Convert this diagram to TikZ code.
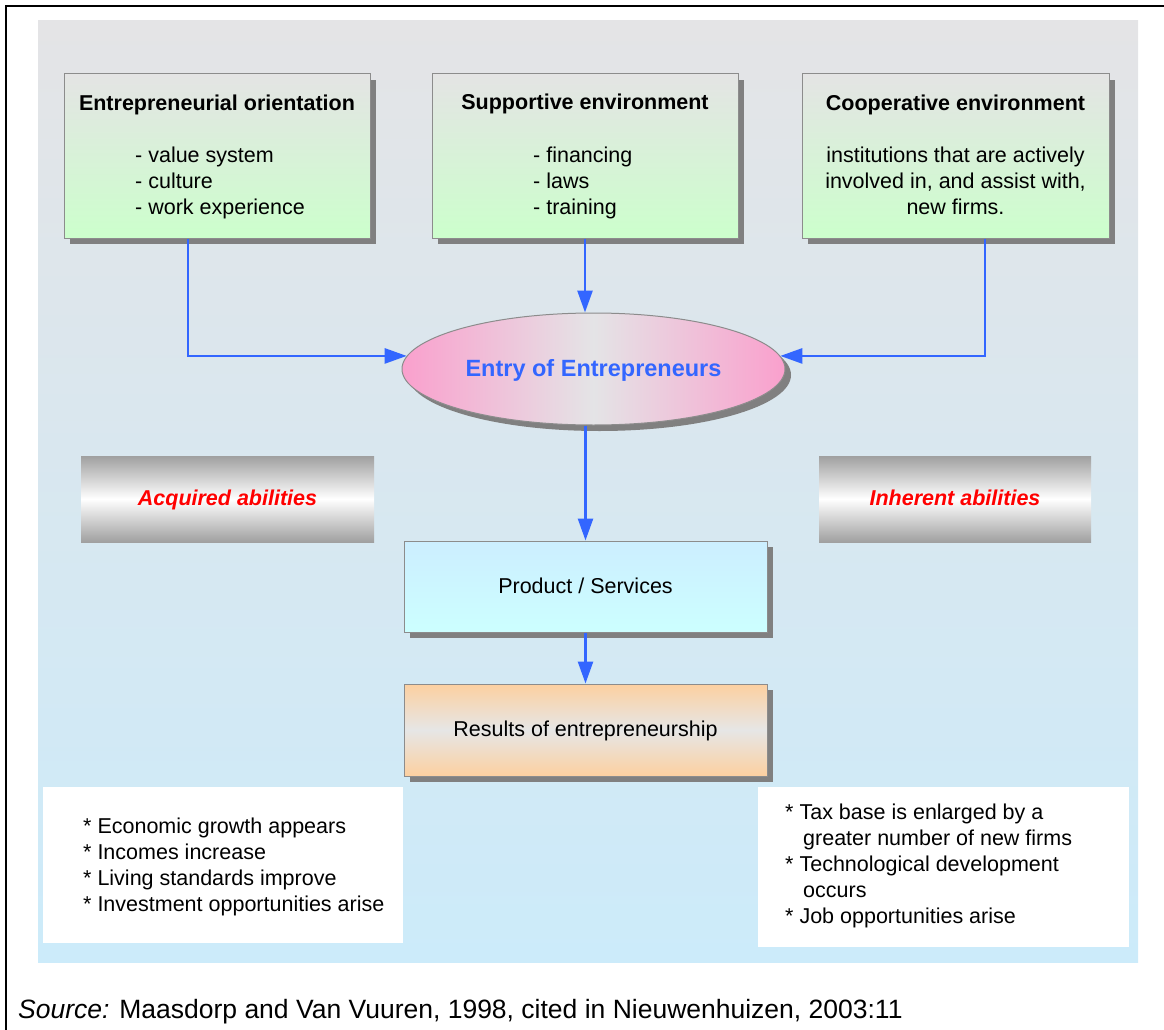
\documentclass[tikz,border=0pt]{standalone}
\usepackage{fontspec}
\setmainfont{Liberation Sans}
\usetikzlibrary{shadows,arrows.meta,shapes.geometric}

\definecolor{panelTop}{RGB}{228,228,230}
\definecolor{panelBot}{RGB}{204,235,250}
\definecolor{greenTop}{RGB}{228,228,228}
\definecolor{greenBot}{RGB}{204,255,204}
\definecolor{pinkEdge}{RGB}{250,160,205}
\definecolor{pinkMid}{RGB}{228,228,230}
\definecolor{metal}{RGB}{160,160,160}
\definecolor{cyanTop}{RGB}{204,238,255}
\definecolor{cyanBot}{RGB}{204,255,255}
\definecolor{peach}{RGB}{252,208,160}
\definecolor{peachMid}{RGB}{230,230,230}
\definecolor{flowBlue}{RGB}{51,102,255}
\definecolor{edgeGray}{RGB}{140,140,140}
\definecolor{shadowGray}{RGB}{128,128,128}
\definecolor{alertRed}{RGB}{255,0,0}

\begin{document}
\begin{tikzpicture}[x=1pt,y=-1pt,
  txt/.style={font=\fontsize{21.5}{26}\selectfont,inner sep=0pt},
  boxshadow/.style={general shadow={shadow xshift=6pt,shadow yshift=-6pt,fill=shadowGray}},
  framed/.style={draw=edgeGray,line width=1pt,inner sep=0pt,boxshadow},
  topbox/.style={framed,minimum width=306pt,minimum height=164pt,
    top color=greenTop,bottom color=greenBot},
  metalbox/.style={inner sep=0pt,minimum height=86pt,
    top color=metal,bottom color=metal,middle color=white,
    font=\fontsize{21.5}{26}\selectfont\bfseries\itshape,text=alertRed,
    text height=16pt,text depth=3pt},
  midtext/.style={font=\fontsize{21.5}{26}\selectfont,text height=16pt,text depth=3pt},
  notebox/.style={fill=white,inner sep=0pt},
  arr/.style={draw=flowBlue,line width=2.6pt,-{Triangle[length=22pt,width=15pt]}}
]
\useasboundingbox (0,0) rectangle (1164,1030);

% page frame (top and left edges)
\draw[line width=2pt] (6,1040) -- (6,6) -- (1180,6);

% background panel
\fill[top color=panelTop,bottom color=panelBot] (38,21) rectangle (1138,962);

% three influence boxes
\node[topbox] (b1) at (217,156) {};
\node[topbox] (b2) at (585,156) {};
\node[topbox,minimum width=307pt] (b3) at (955.5,156) {};

\node[txt,anchor=base,font=\fontsize{21.5}{26}\selectfont\bfseries] (t1) at (217,111) {Entrepreneurial orientation};
\node[txt,anchor=base west] (l1) at (135,162)
  {\begin{tabular}[t]{@{}l@{}}- value system\\- culture\\- work experience\end{tabular}};

\node[txt,anchor=base,font=\fontsize{21.5}{26}\selectfont\bfseries] (t2) at (585,110) {Supportive environment};
\node[txt,anchor=base west] (l2) at (533,162)
  {\begin{tabular}[t]{@{}l@{}}- financing\\- laws\\- training\end{tabular}};

\node[txt,anchor=base,font=\fontsize{21.5}{26}\selectfont\bfseries] (t3) at (955.5,111) {Cooperative environment};
\node[txt,anchor=base] (l3) at (955.5,162)
  {\begin{tabular}[t]{@{}c@{}}institutions that are actively\\involved in, and assist with,\\new firms.\end{tabular}};

% central ellipse
\node[ellipse,framed,minimum width=383pt,minimum height=112pt,
  left color=pinkEdge,right color=pinkEdge,middle color=pinkMid,
  font=\fontsize{23.5}{28}\selectfont\bfseries,text=flowBlue,
  text height=17pt,text depth=3pt] (e) at (593.5,369) {Entry of Entrepreneurs};

% ability bars
\node[metalbox,minimum width=293pt] (acq) at (227.5,499) {Acquired abilities};
\node[metalbox,minimum width=272pt] (inh) at (955,499) {Inherent abilities};

% outcome boxes
\node[framed,minimum width=363pt,minimum height=91pt,
  top color=cyanTop,bottom color=cyanBot,midtext] (p) at (585.5,586.5) {Product / Services};
\node[framed,minimum width=363pt,minimum height=92pt,
  top color=peach,bottom color=peach,middle color=peachMid,midtext] (r) at (585.5,730) {Results of entrepreneurship};

% result notes
\node[notebox,minimum width=360pt,minimum height=156pt] (nl) at (223,865) {};
\node[notebox,minimum width=371pt,minimum height=160pt] (nr) at (943.5,867) {};
\node[txt,anchor=base west] (nlt) at (83,833)
  {\fontsize{21.5}{26.3}\selectfont\begin{tabular}[t]{@{}l@{}}{*} Economic growth appears\\{*} Incomes increase\\{*} Living standards improve\\{*} Investment opportunities arise\end{tabular}};
\node[txt,anchor=base west] (nrt) at (785,819)
  {\begin{tabular}[t]{@{}l@{}}{*} Tax base is enlarged by a\\\hspace*{18pt}greater number of new firms\\{*} Technological development\\\hspace*{18pt}occurs\\{*} Job opportunities arise\end{tabular}};

% connectors
\draw[arr] ([xshift=-29pt]b1.south) |- (e.176);
\draw[arr] (b2.south) -- (b2.south |- e.north);
\draw[arr] ([xshift=29.5pt]b3.south) |- (e.4);
\draw[arr] (p.north |- e.south) -- (p.north);
\draw[arr] (p.south) -- (r.north);

% source line
\node[anchor=base west,inner sep=0pt,font=\fontsize{26.5}{30}\selectfont] (src) at (18,1018)
  {\textit{Source:} Maasdorp and Van Vuuren, 1998, cited in Nieuwenhuizen, 2003:11};
\end{tikzpicture}
\end{document}
